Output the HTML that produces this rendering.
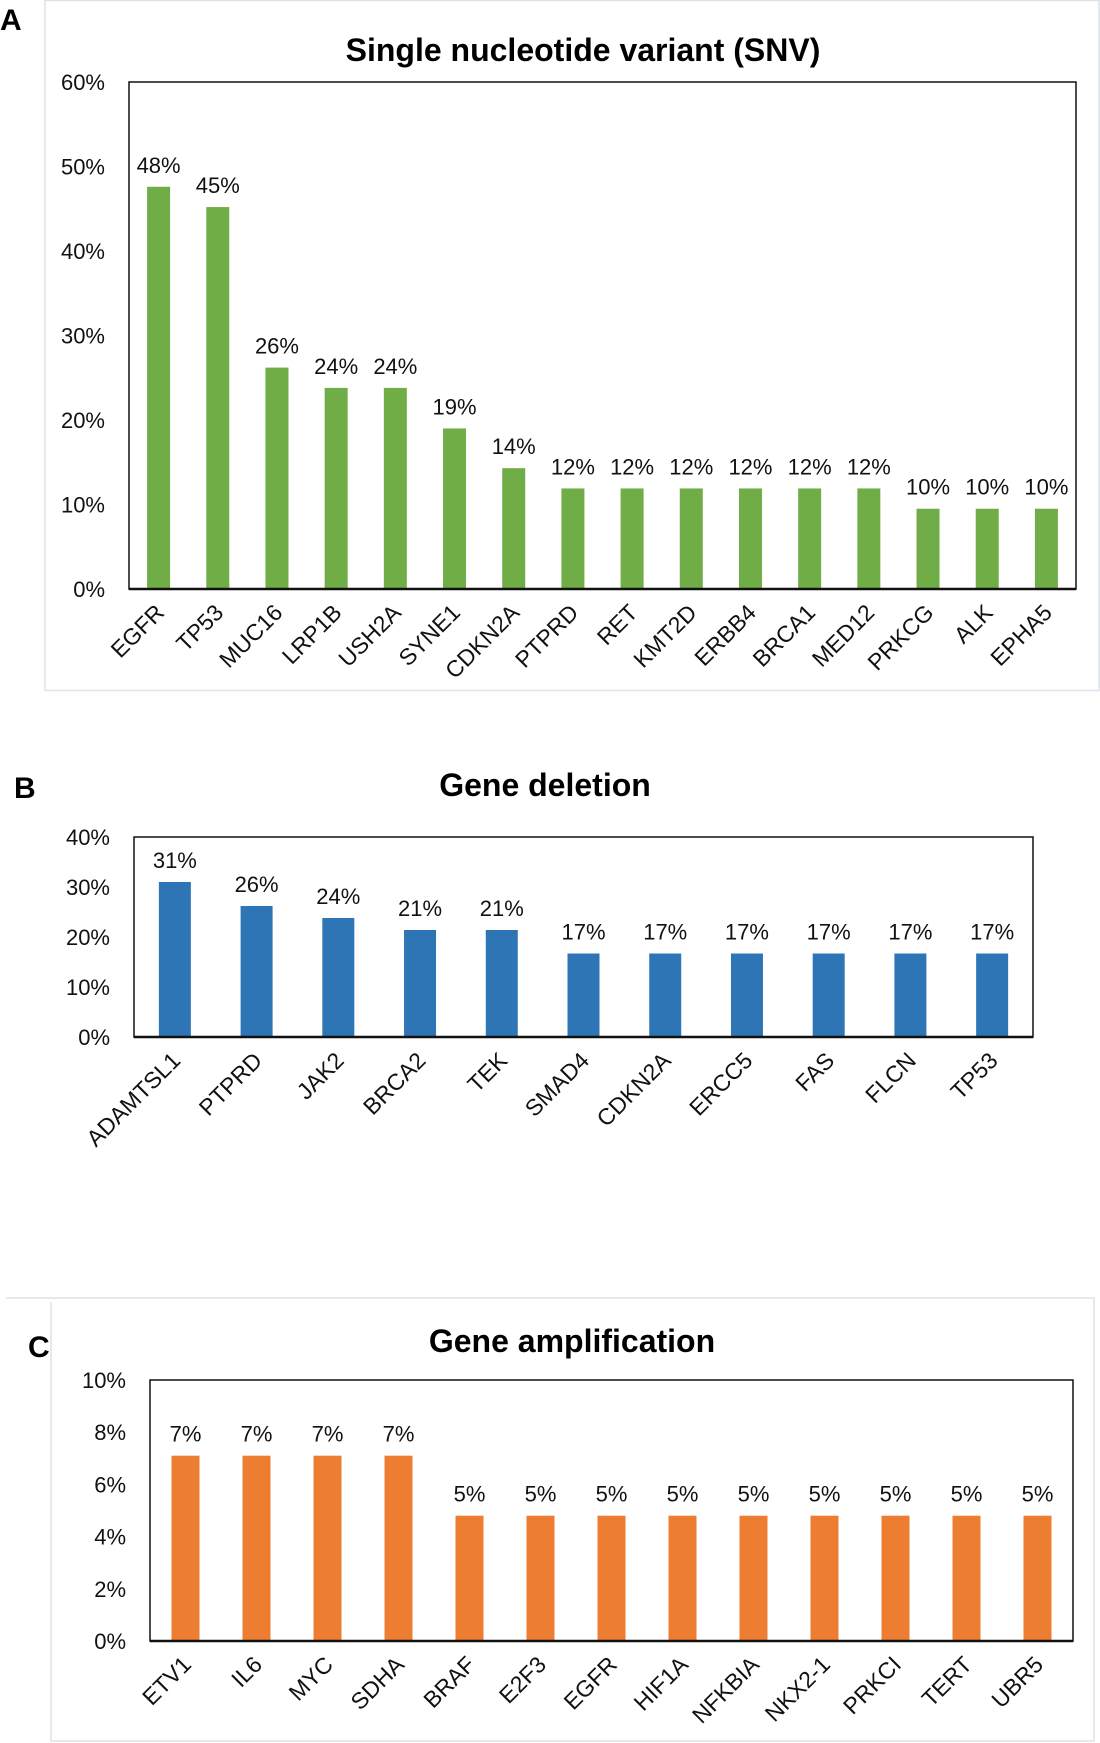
<!DOCTYPE html>
<html><head><meta charset="utf-8"><style>
html,body{margin:0;padding:0;background:#fff;}
svg{display:block;font-family:"Liberation Sans",sans-serif;}
</style></head><body>
<svg id="fig" width="1100" height="1743" viewBox="0 0 1100 1743">
  <rect x="45" y="0.5" width="1054" height="690" fill="none" stroke="#dde3ea" stroke-width="1.5"/>
  <path d="M6 1298 H1094 V1741 H51 V1302" fill="none" stroke="#dde3ea" stroke-width="1.5"/>
  <text x="0" y="30" font-size="30" font-weight="bold">A</text>
  <text x="14" y="798" font-size="30" font-weight="bold">B</text>
  <text x="28" y="1357" font-size="30" font-weight="bold">C</text>
  <text x="583" y="61" font-size="32" font-weight="bold" text-anchor="middle">Single nucleotide variant (SNV)</text>
  <text x="545" y="796" font-size="32" font-weight="bold" text-anchor="middle">Gene deletion</text>
  <text x="572" y="1352" font-size="32" font-weight="bold" text-anchor="middle">Gene amplification</text>
  <g id="chartA"></g>
  <g id="chartB"></g>
  <g id="chartC"></g>
</svg>
<script>
const snvGenes = ["EGFR","TP53","MUC16","LRP1B","USH2A","SYNE1","CDKN2A","PTPRD","RET","KMT2D","ERBB4","BRCA1","MED12","PRKCG","ALK","EPHA5"];
const snvValues = [47.6,45.2,26.2,23.8,23.8,19.0,14.3,11.9,11.9,11.9,11.9,11.9,11.9,9.5,9.5,9.5];
const snvLabels = ["48%","45%","26%","24%","24%","19%","14%","12%","12%","12%","12%","12%","12%","10%","10%","10%"];
const snvTicks = [0,10,20,30,40,50,60];

const delGenes = ["ADAMTSL1","PTPRD","JAK2","BRCA2","TEK","SMAD4","CDKN2A","ERCC5","FAS","FLCN","TP53"];
const delValues = [31.0,26.2,23.8,21.4,21.4,16.7,16.7,16.7,16.7,16.7,16.7];
const delLabels = ["31%","26%","24%","21%","21%","17%","17%","17%","17%","17%","17%"];
const delTicks = [0,10,20,30,40];

const ampGenes = ["ETV1","IL6","MYC","SDHA","BRAF","E2F3","EGFR","HIF1A","NFKBIA","NKX2-1","PRKCI","TERT","UBR5"];
const ampValues = [7.1,7.1,7.1,7.1,4.8,4.8,4.8,4.8,4.8,4.8,4.8,4.8,4.8];
const ampLabels = ["7%","7%","7%","7%","5%","5%","5%","5%","5%","5%","5%","5%","5%"];
const ampTicks = [0,2,4,6,8,10];

const NS = "http://www.w3.org/2000/svg";
function mk(tag, attrs, parent){
  const e = document.createElementNS(NS, tag);
  for (const k in attrs) e.setAttribute(k, attrs[k]);
  parent.appendChild(e);
  return e;
}
function drawChart(gid, cats, vals, labels, ticks, box, color, barW, prefix){
  const g = document.getElementById(gid);
  const maxV = ticks[ticks.length-1];
  const y = v => box.b - (v/maxV)*(box.b-box.t);
  const band = (box.r-box.l)/cats.length;
  const x = i => box.l + band*(i+0.5);
  ticks.forEach(t=>{
    const tx = mk('text',{x:box.l-24,y:y(t)+8,'font-size':22,'text-anchor':'end',fill:'#111'},g);
    tx.textContent = t+'%';
    
    
  });
  cats.forEach((c,i)=>{
    const r = mk('rect',{x:x(i)-barW/2,y:y(vals[i]),width:barW,height:box.b-y(vals[i]),fill:color},g);
    
    
    const lb = mk('text',{x:x(i),y:y(vals[i])-14,'font-size':22,'text-anchor':'middle',fill:'#111'},g);
    lb.textContent = labels[i];
    
    
    const ax = x(i)+7, ay = box.b+25;
    const cl = mk('text',{x:ax,y:ay,'font-size':23,'text-anchor':'end',fill:'#111',transform:'rotate(-45 '+ax+' '+ay+')'},g);
    cl.textContent = c;
    
    
  });
  const fr = mk('rect',{x:box.l,y:box.t,width:box.r-box.l,height:box.b-box.t,fill:'none',stroke:'#111','stroke-width':1.5},g);
  
  
  const bl = mk('line',{x1:box.l,x2:box.r,y1:box.b,y2:box.b,stroke:'#111','stroke-width':2.5},g);
  
  
}
drawChart('chartA', snvGenes, snvValues, snvLabels, snvTicks, {l:129,r:1076,t:82,b:589}, '#70ad47', 23, 'snv');
drawChart('chartB', delGenes, delValues, delLabels, delTicks, {l:134,r:1033,t:837,b:1037}, '#2e75b6', 32, 'deletion');
drawChart('chartC', ampGenes, ampValues, ampLabels, ampTicks, {l:150,r:1073,t:1380,b:1641}, '#ed7d31', 28, 'amplification');
</script>
</body></html>
